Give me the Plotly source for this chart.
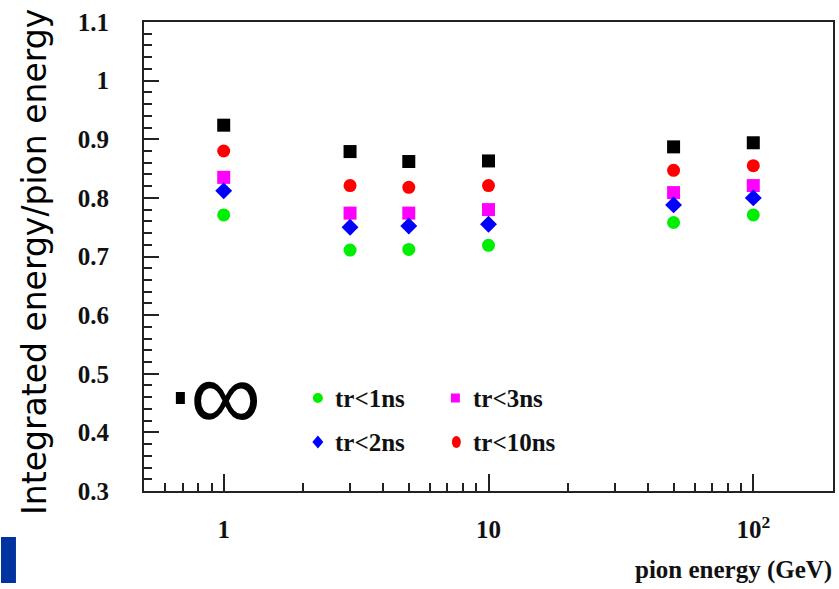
import plotly.graph_objects as go

# Pion beam energies (GeV)
energy = [1, 3, 5, 10, 50, 100]

# Integrated energy / pion energy for each time cut
frac_inf = [0.924, 0.879, 0.862, 0.863, 0.887, 0.894]
frac_10ns = [0.880, 0.821, 0.818, 0.821, 0.847, 0.855]
frac_3ns = [0.835, 0.774, 0.774, 0.780, 0.809, 0.821]
frac_2ns = [0.812, 0.750, 0.752, 0.755, 0.788, 0.800]
frac_1ns = [0.771, 0.711, 0.712, 0.719, 0.758, 0.771]

x_ticks = [1, 10, 100]
x_ticktext = ["1", "10", "10<sup>2</sup>"]
x_minor = [0.6, 0.7, 0.8, 0.9, 2, 3, 4, 5, 6, 7, 8, 9,
           20, 30, 40, 50, 60, 70, 80, 90, 200]

series = [
    ("∞", frac_inf, "#000000", "square"),
    ("tr<10ns", frac_10ns, "#ff0000", "circle"),
    ("tr<3ns", frac_3ns, "#ff00ff", "square"),
    ("tr<2ns", frac_2ns, "#0000ff", "diamond"),
    ("tr<1ns", frac_1ns, "#00ee00", "circle"),
]

W, H = 839, 589
L, R, T, B = 143.5, 4, 22, 98
pw, ph = W - L - R, H - T - B


def px(xp):
    return (xp - L) / pw


def py(yp):
    return (H - B - yp) / ph


fig = go.Figure()
for name, vals, color, sym in series:
    fig.add_trace(go.Scatter(
        x=energy, y=vals, mode="markers", name=name, showlegend=False,
        marker=dict(symbol=sym, size=13, color=color, line=dict(width=0)),
    ))

serif = "Liberation Serif"
axis_col = "#222222"
label_font = dict(family=serif, size=25, color="#111111", weight="bold")

fig.update_xaxes(
    type="log", range=[-0.30103, 2.30103],
    tickvals=x_ticks, ticktext=x_ticktext,
    ticks="inside", ticklen=17, tickwidth=1.5, tickcolor=axis_col,
    minor=dict(tickvals=x_minor, ticks="inside", ticklen=8,
               tickwidth=1.5, tickcolor=axis_col),
    showline=True, linecolor=axis_col, linewidth=2, mirror=True,
    showgrid=False, zeroline=False,
    tickfont=label_font,
    ticklabelstandoff=15,
)
fig.update_yaxes(
    range=[0.3, 1.1], dtick=0.1, tick0=0.3,
    ticks="inside", ticklen=15, tickwidth=1.5, tickcolor=axis_col,
    minor=dict(dtick=0.02, ticks="inside", ticklen=8,
               tickwidth=1.5, tickcolor=axis_col),
    showline=True, linecolor=axis_col, linewidth=2, mirror=True,
    showgrid=False, zeroline=False,
    tickfont=label_font,
    ticklabelstandoff=28,
)

annotations = [
    dict(text="Integrated energy/pion energy", x=px(33), y=py(262),
         xref="paper", yref="paper", textangle=-90, showarrow=False,
         xanchor="center", yanchor="middle",
         font=dict(family="DejaVu Sans", size=33, color="#000000")),
    dict(text="pion energy (GeV)", x=px(836), y=py(570),
         xref="paper", yref="paper", showarrow=False,
         xanchor="right", yanchor="middle", font=label_font),
    dict(text="∞", x=px(225), y=py(395), xref="paper", yref="paper",
         showarrow=False, xanchor="center", yanchor="middle",
         font=dict(family="Liberation Sans", size=100, color="#000000")),
]
legend_text = [("tr&lt;1ns", 333, 398), ("tr&lt;3ns", 472, 398),
               ("tr&lt;2ns", 333, 442), ("tr&lt;10ns", 472, 442)]
for txt, xx, yy in legend_text:
    annotations.append(dict(
        text=txt, x=px(xx), y=py(yy), xref="paper", yref="paper",
        showarrow=False, xanchor="left", yanchor="middle", font=label_font))

shapes = []


def marker_shape(kind, cx, cy, w, h, color):
    common = dict(xref="paper", yref="paper", xsizemode="pixel",
                  ysizemode="pixel", xanchor=px(cx), yanchor=py(cy),
                  fillcolor=color, line=dict(width=0))
    if kind == "diamond":
        path = f"M0,{h/2} L{w/2},0 L0,{-h/2} L{-w/2},0 Z"
        return dict(type="path", path=path, **common)
    return dict(type=kind, x0=-w / 2, x1=w / 2, y0=-h / 2, y1=h / 2, **common)


shapes.append(marker_shape("rect", 180, 398, 9, 12, "#000000"))
shapes.append(marker_shape("circle", 318, 398, 10, 10, "#00ee00"))
shapes.append(marker_shape("rect", 456, 398, 9, 9, "#ff00ff"))
shapes.append(marker_shape("diamond", 318, 442, 11, 13, "#0000ff"))
shapes.append(marker_shape("circle", 457, 442, 9, 12, "#ff0000"))
# corner tab
shapes.append(dict(type="rect", xref="paper", yref="paper",
                   x0=px(0), x1=px(15), y0=py(583), y1=py(537),
                   fillcolor="#0033a0", line=dict(width=0)))

fig.update_layout(
    width=W, height=H,
    margin=dict(l=L, r=R, t=T, b=B),
    paper_bgcolor="white", plot_bgcolor="white",
    annotations=annotations, shapes=shapes,
)

fig.write_html("out.html")
